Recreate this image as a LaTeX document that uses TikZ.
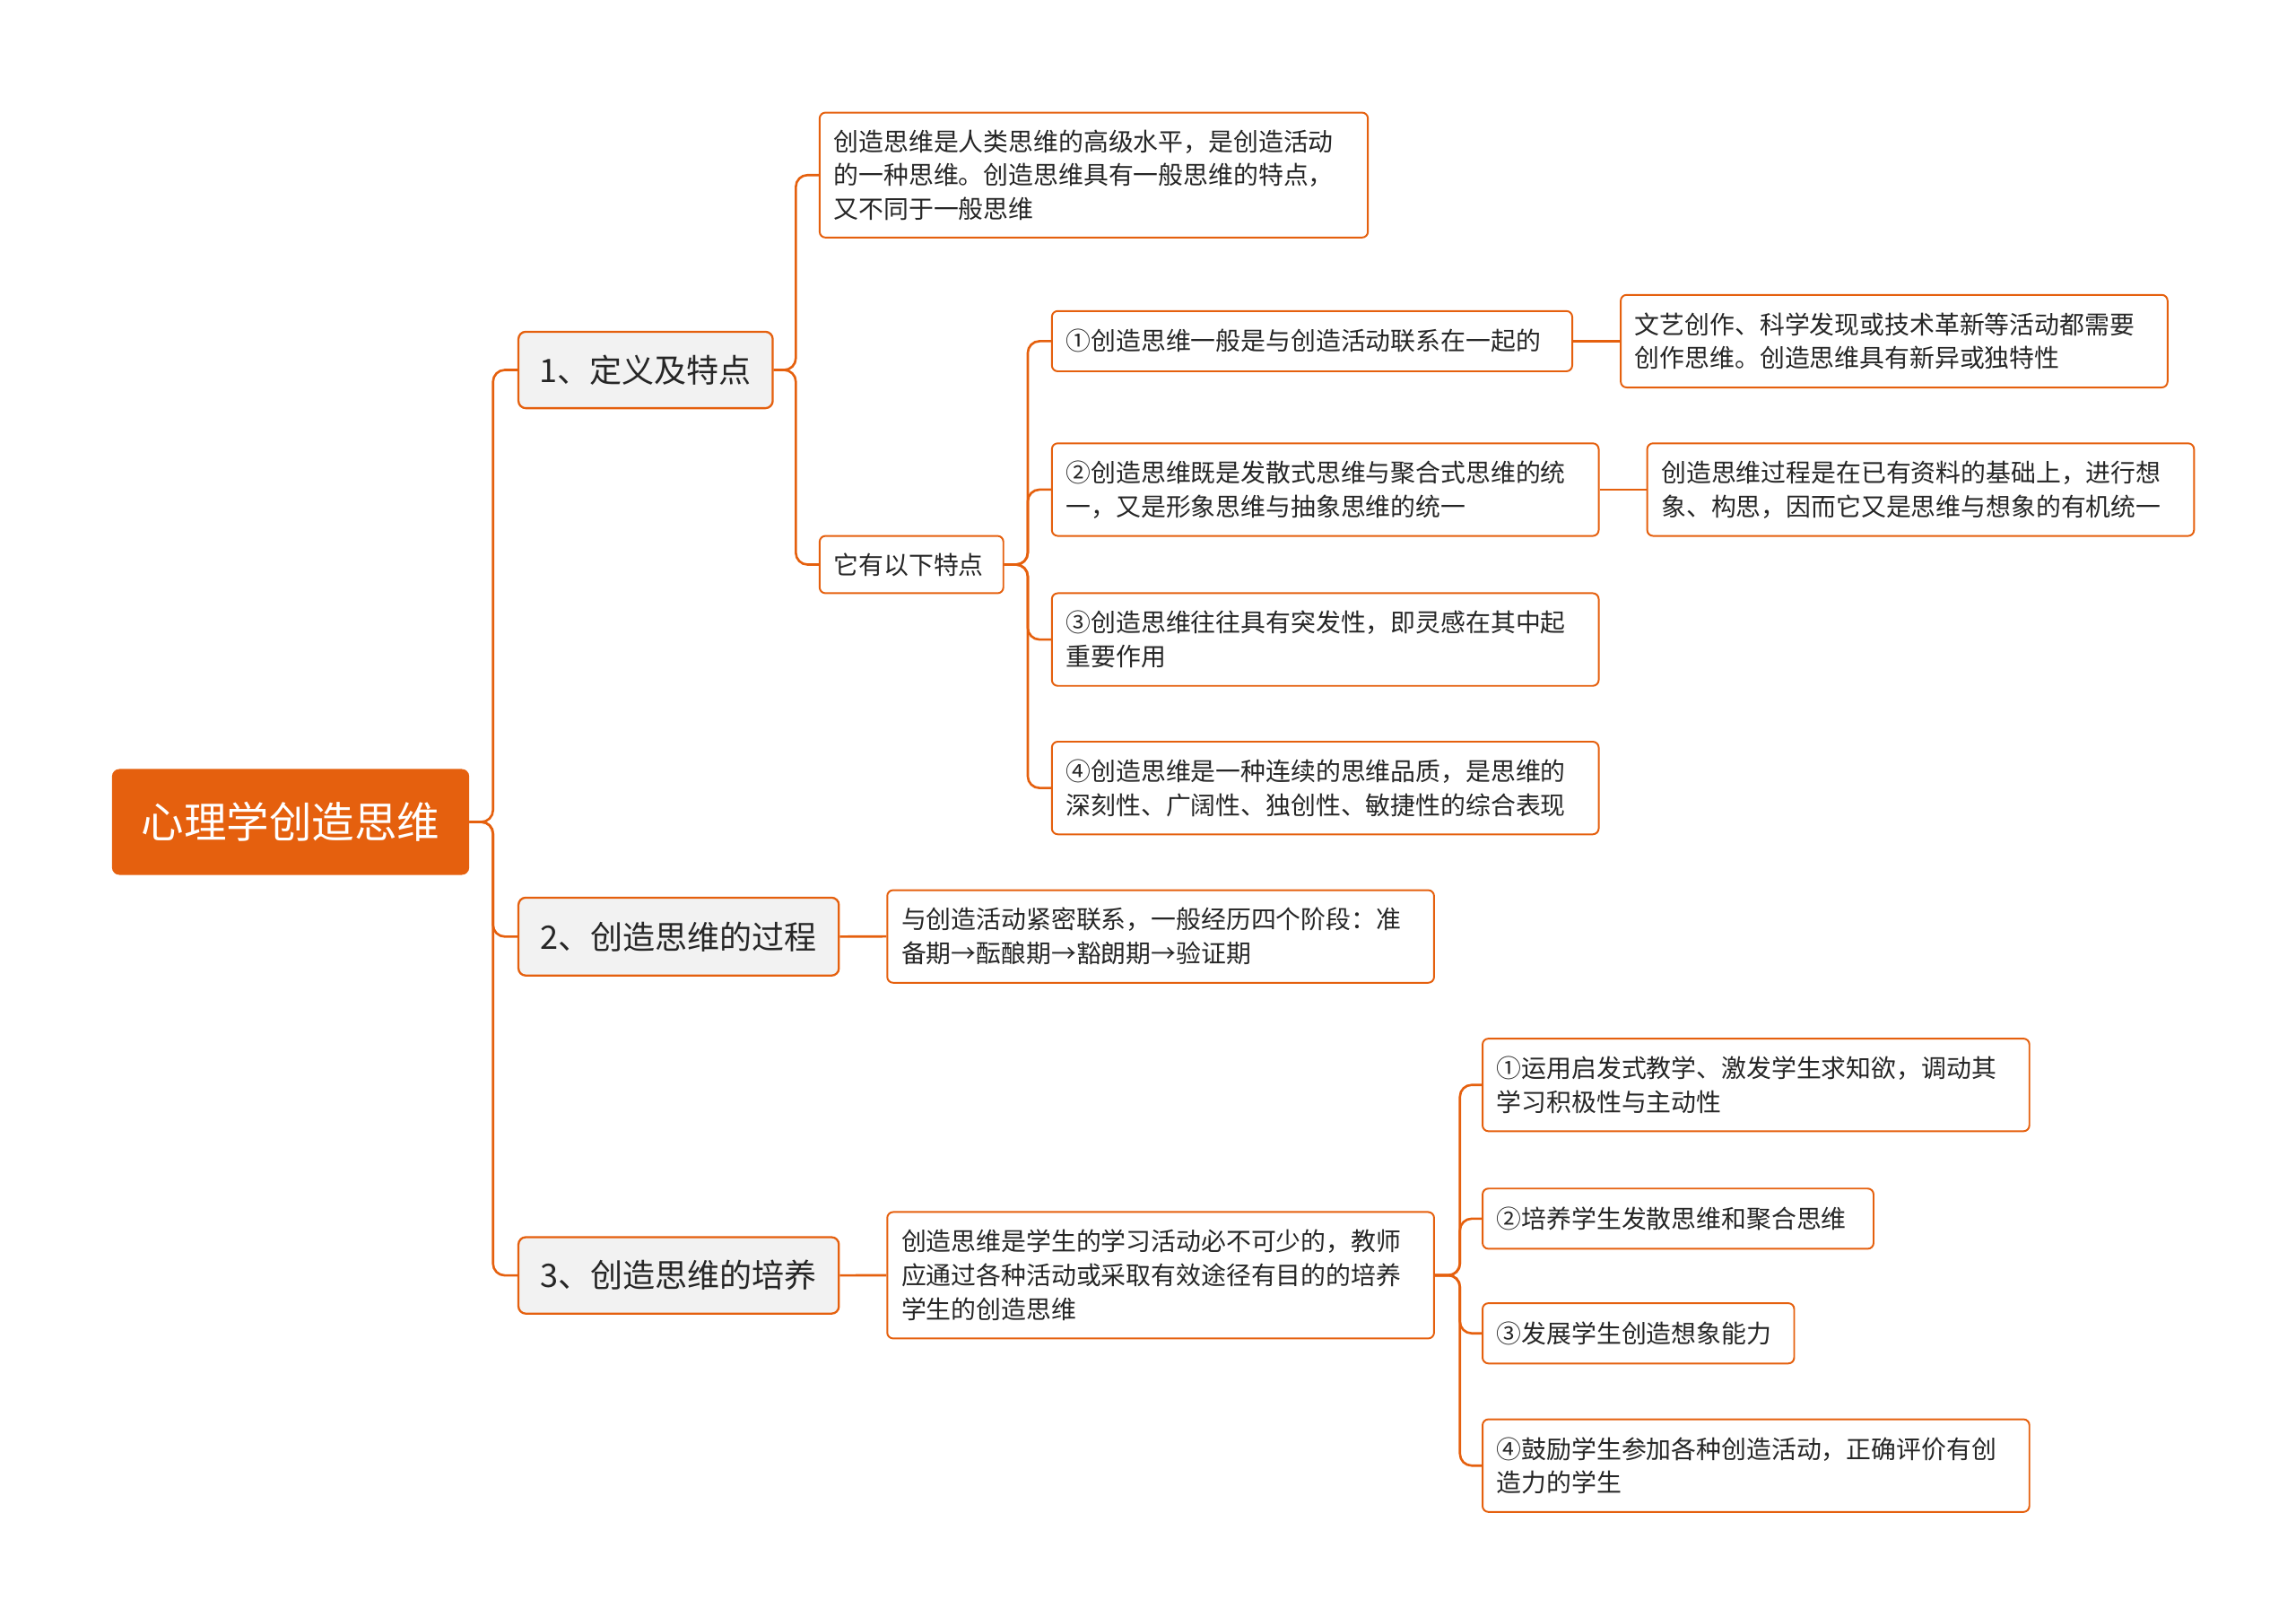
\documentclass[tikz,border=0pt]{standalone}
\usepackage{fontspec}
\setmainfont{Noto Sans CJK SC}
\definecolor{org}{HTML}{E5600E}
\definecolor{lg}{HTML}{F2F2F2}
\begin{document}
\begin{tikzpicture}[x=1pt,y=-1pt,
 box/.style={draw=org,line width=1.2pt,rounded corners=4pt,fill=white,anchor=north west,align=left,inner sep=0pt,font=\fontsize{17pt}{23pt}\selectfont,text=black!85},
 lv/.style={draw=org,line width=1.4pt,rounded corners=5pt,fill=lg,anchor=north west,align=center,inner sep=0pt,font=\fontsize{22pt}{26pt}\selectfont,text=black!85},
 conn/.style={draw=org,line width=1.6pt,rounded corners=8pt}]
\useasboundingbox (0,0) rectangle (1562,1100);
\newcommand\bx[6]{\node[#1,minimum width=#4-#2,minimum height=#5-#3] (#6) at (#2,#3) {};}
\node[fill=org,rounded corners=5pt,anchor=north west,minimum width=243,minimum height=72,inner sep=0pt,text=white,font=\fontsize{29pt}{32pt}\selectfont] (root) at (76,523) {心理学创造思维};
\bx{lv}{352}{225}{525}{277}{n1}\node at (n1) [font=\fontsize{22pt}{26pt}\selectfont,text=black!85]{1、定义及特点};
\bx{lv}{352}{610}{570}{663}{n2}\node at (n2) [font=\fontsize{22pt}{26pt}\selectfont,text=black!85]{2、创造思维的过程};
\bx{lv}{352}{841}{570}{893}{n3}\node at (n3) [font=\fontsize{22pt}{26pt}\selectfont,text=black!85]{3、创造思维的培养};
\newcommand\tx[2]{\node[anchor=west,align=left,inner sep=0pt,font=\fontsize{17pt}{23pt}\selectfont,text=black!85] at ([xshift=10pt]#1.west) {#2};}
\bx{box}{557}{76}{930}{161}{a}\tx{a}{创造思维是人类思维的高级水平，是创造活动\\的一种思维。创造思维具有一般思维的特点，\\又不同于一般思维}
\bx{box}{557}{364}{682}{403}{b}\tx{b}{它有以下特点}
\bx{box}{715}{211}{1069}{252}{c1}\tx{c1}{①创造思维一般是与创造活动联系在一起的}
\bx{box}{715}{301}{1087}{364}{c2}\tx{c2}{②创造思维既是发散式思维与聚合式思维的统\\一，又是形象思维与抽象思维的统一}
\bx{box}{715}{403}{1087}{466}{c3}\tx{c3}{③创造思维往往具有突发性，即灵感在其中起\\重要作用}
\bx{box}{715}{504}{1087}{567}{c4}\tx{c4}{④创造思维是一种连续的思维品质，是思维的\\深刻性、广阔性、独创性、敏捷性的综合表现}
\bx{box}{1102}{200}{1474}{263}{d1}\tx{d1}{文艺创作、科学发现或技术革新等活动都需要\\创作思维。创造思维具有新异或独特性}
\bx{box}{1120}{301}{1492}{364}{d2}\tx{d2}{创造思维过程是在已有资料的基础上，进行想\\象、构思，因而它又是思维与想象的有机统一}
\bx{box}{603}{605}{975}{668}{p}\tx{p}{与创造活动紧密联系，一般经历四个阶段：准\\备期→酝酿期→豁朗期→验证期}
\bx{box}{603}{824}{975}{910}{t}\tx{t}{创造思维是学生的学习活动必不可少的，教师\\应通过各种活动或采取有效途径有目的的培养\\学生的创造思维}
\bx{box}{1008}{706}{1380}{769}{t1}\tx{t1}{①运用启发式教学、激发学生求知欲，调动其\\学习积极性与主动性}
\bx{box}{1008}{808}{1274}{849}{t2}\tx{t2}{②培养学生发散思维和聚合思维}
\bx{box}{1008}{886}{1220}{927}{t3}\tx{t3}{③发展学生创造想象能力}
\bx{box}{1008}{965}{1380}{1028}{t4}\tx{t4}{④鼓励学生参加各种创造活动，正确评价有创\\造力的学生}
\begin{scope}[on background layer/.style={}]
\foreach \c in {n1,n2,n3} \draw[conn] (root.east) -- ++(16,0) |- (\c.west);
\foreach \c in {a,b} \draw[conn] (n1.east) -- ++(15,0) |- (\c.west);
\foreach \c in {c1,c2,c3,c4} \draw[conn] (b.east) -- ++(16,0) |- (\c.west);
\foreach \c in {t1,t2,t3,t4} \draw[conn] (t.east) -- ++(17,0) |- (\c.west);
\draw[conn] (n2.east) -- (p.west);
\draw[conn] (n3.east) -- (t.west);
\draw[conn] (c1.east) -- (d1.west|-c1.east);
\draw[conn] (c2.east) -- (d2.west);
\end{scope}
\end{tikzpicture}
\end{document}
